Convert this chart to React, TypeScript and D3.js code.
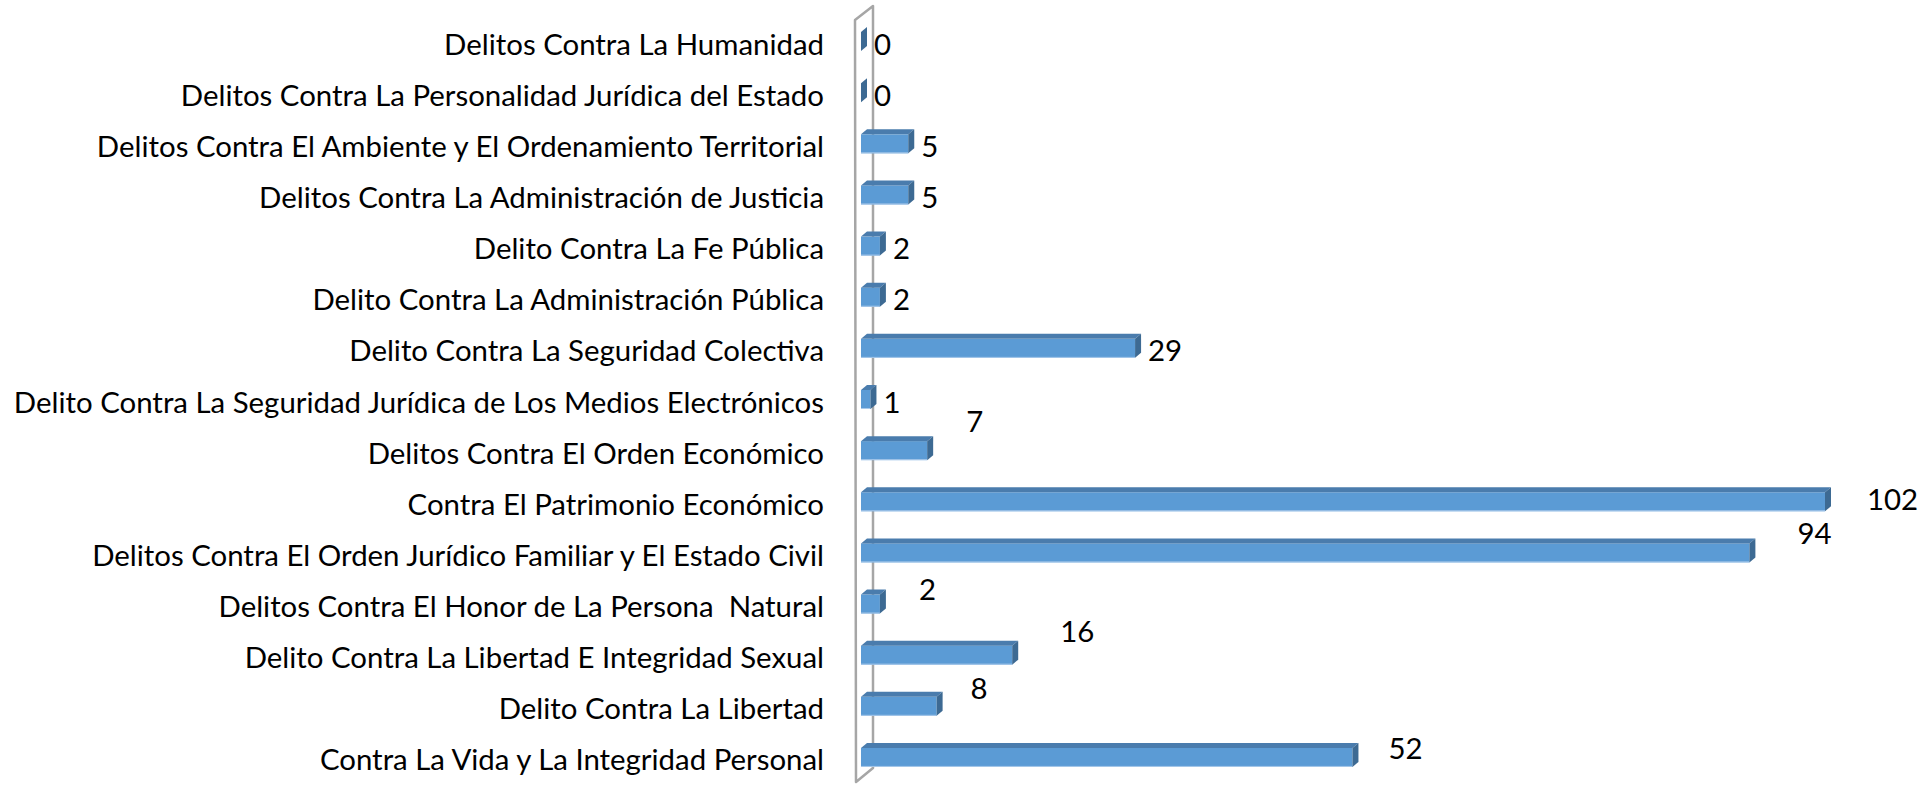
import React from "react";
import * as d3 from "d3";

const categories = [
  "Delitos Contra La Humanidad",
  "Delitos Contra La Personalidad Jurídica del Estado",
  "Delitos Contra El Ambiente y El Ordenamiento Territorial",
  "Delitos Contra La Administración de Justicia",
  "Delito Contra La Fe Pública",
  "Delito Contra La Administración Pública",
  "Delito Contra La Seguridad Colectiva",
  "Delito Contra La Seguridad Jurídica de Los Medios Electrónicos",
  "Delitos Contra El Orden Económico",
  "Contra El Patrimonio Económico",
  "Delitos Contra El Orden Jurídico Familiar y El Estado Civil",
  "Delitos Contra El Honor de La Persona  Natural",
  "Delito Contra La Libertad E Integridad Sexual",
  "Delito Contra La Libertad",
  "Contra La Vida y La Integridad Personal",
];

const values = [0, 0, 5, 5, 2, 2, 29, 1, 7, 102, 94, 2, 16, 8, 52];

// manual label nudges (layout only), [dx, dy] in px
const labelNudges: [number, number][] = [
  [0, 0], [0, 0], [0, 0], [0, 0], [0, 0], [0, 0], [0, 0], [0, 0],
  [26, -32], [29, -5], [35, -22], [26, -17], [35, -26], [21, -20], [23, -11],
];

const W = 1926;
const H = 785;
const FONT = "Lato, 'Open Sans', sans-serif";
const FS = 29.4;
const FS_VAL = 29.4;
const DX = 6;
const DY = 5;
const BAR_H = 19;

const COLORS = {
  front: "#5b9bd5",
  top: "#4a7cad",
  side: "#3d6a93",
  wall: "#a6a6a6",
};

export default function App() {
  const y = d3.scaleBand<string>().domain(categories).range([17.5, 784.5]);
  const x = d3.scaleLinear().domain([0, 102]).range([861, 1825]);
  const x0 = x(0);

  const wallPath = d3.path();
  wallPath.moveTo(855, 20);
  wallPath.lineTo(873, 6);
  wallPath.lineTo(873, 768);
  wallPath.lineTo(856, 782);
  wallPath.closePath();

  const poly = (pts: [number, number][]) => "M" + pts.map((p) => p.join(",")).join("L") + "Z";
  const cyOf = (c: string) => (y(c) as number) + y.bandwidth() / 2;

  return (
    <svg
      width={W}
      height={H}
      style={{ position: "fixed", left: 0, top: 0, background: "#fff" }}
      fontFamily={FONT}
    >
      <rect x={0} y={0} width={W} height={H} fill="#fff" />
      {/* wall */}
      <path d={wallPath.toString()} fill="#fff" stroke={COLORS.wall} strokeWidth={2.5} strokeLinejoin="round" />

      {/* category labels */}
      {categories.map((c) => (
        <text
          key={c}
          x={824}
          y={cyOf(c)}
          textAnchor="end"
          dominantBaseline="central"
          fontSize={FS}
          fill="#000"
          style={{ whiteSpace: "pre" }}
        >
          {c}
        </text>
      ))}

      {/* bars */}
      {categories.map((c, i) => {
        const cy = cyOf(c);
        const top = cy - 11;
        const bot = top + BAR_H;
        const x1 = x(values[i]);
        return (
          <g key={c}>
            {values[i] > 0 && (
              <>
                <rect x={x0} y={top} width={x1 - x0} height={BAR_H} fill={COLORS.front} />
                <line x1={x0} x2={x1} y1={bot - 0.5} y2={bot - 0.5} stroke="#a9c9ea" strokeWidth={1} />
                <path
                  d={poly([
                    [x0, top],
                    [x0 + DX, top - DY],
                    [x1 + DX, top - DY],
                    [x1, top],
                  ])}
                  fill={COLORS.top}
                />
              </>
            )}
            <path
              d={poly([
                [x1, top],
                [x1 + DX, top - DY],
                [x1 + DX, bot - DY],
                [x1, bot],
              ])}
              fill={COLORS.side}
            />
          </g>
        );
      })}

      {/* value labels */}
      {categories.map((c, i) => {
        const [ndx, ndy] = labelNudges[i];
        return (
          <text
            key={"v" + c}
            x={x(values[i]) + DX + 7 + ndx}
            y={cyOf(c) + ndy}
            dominantBaseline="central"
            fontSize={FS_VAL}
            fill="#000"
          >
            {values[i]}
          </text>
        );
      })}
    </svg>
  );
}
